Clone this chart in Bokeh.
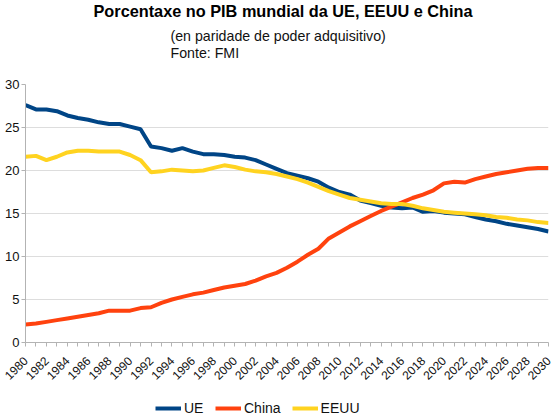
import math
from bokeh.plotting import figure
from bokeh.layouts import column
from bokeh.models import Legend, LegendItem, FixedTicker, Range1d, Label
from bokeh.embed import file_html
from bokeh.resources import INLINE

years = list(range(1980, 2031))
ue = [27.6, 27.1, 27.1, 26.9, 26.4, 26.1, 25.9, 25.6, 25.4, 25.4,
      25.1, 24.8, 22.8, 22.6, 22.3, 22.6, 22.2, 21.9, 21.9, 21.8,
      21.6, 21.5, 21.2, 20.7, 20.2, 19.7, 19.4, 19.1, 18.7, 18.0,
      17.5, 17.2, 16.5, 16.2, 15.9, 15.7, 15.6, 15.7, 15.2, 15.3,
      15.1, 15.0, 14.9, 14.6, 14.3, 14.1, 13.8, 13.6, 13.4, 13.2, 12.9]
china = [2.1, 2.2, 2.4, 2.6, 2.8, 3.0, 3.2, 3.4, 3.7, 3.7,
         3.7, 4.0, 4.1, 4.6, 5.0, 5.3, 5.6, 5.8, 6.1, 6.4,
         6.6, 6.8, 7.2, 7.7, 8.1, 8.7, 9.4, 10.2, 10.9, 12.1,
         12.8, 13.5, 14.1, 14.7, 15.3, 15.8, 16.3, 16.8, 17.2, 17.7,
         18.5, 18.7, 18.6, 19.0, 19.3, 19.6, 19.8, 20.0, 20.2, 20.3, 20.3]
eeuu = [21.6, 21.7, 21.2, 21.6, 22.1, 22.3, 22.3, 22.2, 22.2, 22.2,
        21.8, 21.2, 19.8, 19.9, 20.1, 20.0, 19.9, 20.0, 20.3, 20.6,
        20.4, 20.1, 19.9, 19.8, 19.6, 19.3, 19.0, 18.6, 18.1, 17.6,
        17.2, 16.8, 16.6, 16.4, 16.2, 16.1, 16.1, 15.9, 15.6, 15.4,
        15.2, 15.1, 15.0, 14.9, 14.8, 14.6, 14.5, 14.3, 14.2, 14.0, 13.9]
y_ticks = [0, 5, 10, 15, 20, 25, 30]
series_names = ["UE", "China", "EEUU"]
series_colors = ["#004586", "#ff420e", "#ffd320"]
series_values = [ue, china, eeuu]

title_text = "Porcentaxe no PIB mundial da UE, EEUU e China"
sub1_text = "(en paridade de poder adquisitivo)"
sub2_text = "Fonte: FMI"

FONT = "Liberation Sans"
W = 554
LEFT = 25
RIGHT_GAP = 6

# ---- header strip with the titles (page-pixel coordinates, y downward) ----
HEAD_H = 76
ph = figure(width=W, height=HEAD_H, output_backend="svg", toolbar_location=None,
            x_range=Range1d(LEFT, W - RIGHT_GAP), y_range=Range1d(HEAD_H, 0),
            x_axis_type=None, y_axis_type=None,
            min_border_left=LEFT, min_border_right=RIGHT_GAP,
            min_border_top=0, min_border_bottom=0)
ph.outline_line_color = None
ph.xgrid.grid_line_color = None
ph.ygrid.grid_line_color = None
ph.add_layout(Label(x=93, y=10, text=title_text, text_font=FONT,
                    text_font_size="16.3px", text_font_style="bold",
                    text_color="#000000", text_baseline="middle", text_align="left"))
ph.add_layout(Label(x=170, y=35.5, text=sub1_text, text_font=FONT,
                    text_font_size="14.2px", text_color="#111111",
                    text_baseline="middle", text_align="left"))
ph.add_layout(Label(x=170, y=52.5, text=sub2_text, text_font=FONT,
                    text_font_size="14.2px", text_color="#111111",
                    text_baseline="middle", text_align="left"))

# ---- main chart ----
p = figure(width=W, height=318, output_backend="svg", toolbar_location=None,
           x_range=Range1d(1980, 2030), y_range=Range1d(0, 30),
           min_border_left=LEFT, min_border_right=RIGHT_GAP, min_border_top=8,
           min_border_bottom=52)
p.outline_line_color = None

for vals, col in zip(series_values, series_colors):
    p.line(years, vals, line_color=col, line_width=4)

p.xaxis.ticker = FixedTicker(ticks=years)
p.xaxis.major_label_overrides = {y: (str(y) if y % 2 == 0 else "") for y in years}
p.xaxis.major_label_orientation = math.pi / 4
p.xaxis.major_label_text_font = FONT
p.xaxis.major_label_text_font_size = "12px"
p.xaxis.major_label_text_color = "#111111"
p.xaxis.axis_line_color = "#b3b3b3"
p.xaxis.major_tick_line_color = "#b3b3b3"
p.xaxis.major_tick_out = 4
p.xaxis.major_tick_in = 0
p.xaxis.minor_tick_line_color = None
p.xaxis.major_label_standoff = 12

p.yaxis.ticker = FixedTicker(ticks=y_ticks)
p.yaxis.major_label_text_font = FONT
p.yaxis.major_label_text_font_size = "13px"
p.yaxis.major_label_text_color = "#111111"
p.yaxis.axis_line_color = "#b3b3b3"
p.yaxis.major_tick_line_color = "#b3b3b3"
p.yaxis.major_tick_out = 4
p.yaxis.major_tick_in = 0
p.yaxis.minor_tick_line_color = None
p.yaxis.major_label_standoff = 2

p.xgrid.grid_line_color = None
p.ygrid.grid_line_color = "#dddddd"

# ---- legend strip below the chart (series drawn outside its view, only legend shows) ----
pl = figure(width=W, height=22, output_backend="svg", toolbar_location=None,
            x_range=Range1d(0, 1), y_range=Range1d(0, 1),
            x_axis_type=None, y_axis_type=None,
            min_border_left=LEFT, min_border_right=RIGHT_GAP,
            min_border_top=0, min_border_bottom=0)
pl.outline_line_color = None
pl.xgrid.grid_line_color = None
pl.ygrid.grid_line_color = None
items = []
for name, vals, col in zip(series_names, series_values, series_colors):
    r = pl.line(years, vals, line_color=col, line_width=4)
    items.append(LegendItem(label=name, renderers=[r]))
legend = Legend(items=items, orientation="horizontal", location=(130, 0),
                label_text_font=FONT, label_text_font_size="14px",
                label_text_color="#111111", glyph_width=26, glyph_height=14,
                spacing=11, label_standoff=3, padding=2, margin=0,
                border_line_color=None, background_fill_alpha=0)
pl.add_layout(legend, "center")

layout = column(ph, p, pl, spacing=0)
open("out.html", "w").write(file_html(layout, INLINE))
